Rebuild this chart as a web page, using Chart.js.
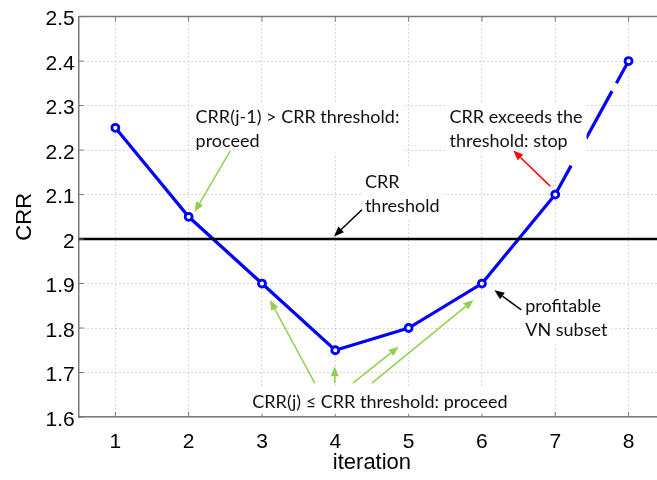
<!DOCTYPE html>
<html><head><meta charset="utf-8">
<script src="https://cdn.jsdelivr.net/npm/chart.js@4/dist/chart.umd.min.js"></script>
<style>html,body{margin:0;padding:0;background:#fff;overflow:hidden;width:657px;height:480px}canvas{display:block}</style>
</head><body><canvas id="c" width="672" height="480"></canvas>
<script>
// ---- data ----
const iterations = [1, 2, 3, 4, 5, 6, 7, 8];
const crrValues = [2.25, 2.05, 1.9, 1.75, 1.8, 1.9, 2.1, 2.4];
const xTickValues = [1, 2, 3, 4, 5, 6, 7, 8];
const xTickLabels = ['1', '2', '3', '4', '5', '6', '7', '8'];
const yTickValues = [1.6, 1.7, 1.8, 1.9, 2.0, 2.1, 2.2, 2.3, 2.4, 2.5];
const yTickLabels = ['1.6', '1.7', '1.8', '1.9', '2', '2.1', '2.2', '2.3', '2.4', '2.5'];
const crrThreshold = 2.0;
const xRange = [0.5, 8.5];
const yRange = [1.6, 2.5];
const dashedFromIndex = 6; // segment from iteration 7 to 8 is dashed
const xTitle = 'iteration';
const yTitle = 'CRR';

// annotation texts (anchor in data units: left x, first line centre y)
const noteLines = [
  ['CRR(j-1) > CRR threshold:', 'proceed'],
  ['CRR', 'threshold'],
  ['CRR exceeds the', 'threshold: stop'],
  ['profitable', 'VN subset'],
  ['CRR(j) \u2264 CRR threshold: proceed']
];
const noteX = [2.094, 4.404, 5.558, 6.591, 2.868];
const noteY = [2.273, 2.128, 2.273, 1.850, 1.634];
// arrows (data units)
const arrowFromX = [2.569, 4.363, 6.931, 6.537, 3.720, 3.992, 4.240, 4.499];
const arrowFromY = [2.199, 2.066, 2.119, 1.841, 1.676, 1.676, 1.676, 1.676];
const arrowToX   = [2.080, 3.982, 6.428, 6.170, 3.109, 3.992, 4.865, 5.885];
const arrowToY   = [2.061, 2.006, 2.199, 1.885, 1.863, 1.714, 1.758, 1.863];
const arrowKind  = ['go', 'ref', 'stop', 'ref', 'go', 'go', 'go', 'go'];

// ---- styles ----
const arrowColors = { go: '#8fd14f', ref: '#000000', stop: '#ff0000' };
const axisColor = '#7a7a7a';
const gridColor = '#b0b0b0';
const noteFont = '18px Lato, "Noto Sans", sans-serif';
const noteLineGap = 24;

const overlay = {
  id: 'overlay',
  afterDatasetsDraw(chart) {
    const { ctx, chartArea: ca, scales: { x, y } } = chart;
    ctx.save();
    // top box border
    ctx.strokeStyle = axisColor; ctx.lineWidth = 1.5;
    ctx.beginPath(); ctx.moveTo(ca.left, ca.top); ctx.lineTo(ca.right, ca.top); ctx.stroke();
    // inward tick marks
    ctx.lineWidth = 1;
    xTickValues.forEach(v => {
      const px = x.getPixelForValue(v);
      ctx.beginPath();
      ctx.moveTo(px, ca.bottom); ctx.lineTo(px, ca.bottom - 5);
      ctx.moveTo(px, ca.top); ctx.lineTo(px, ca.top + 5);
      ctx.stroke();
    });
    yTickValues.forEach(v => {
      const py = y.getPixelForValue(v);
      ctx.beginPath(); ctx.moveTo(ca.left, py); ctx.lineTo(ca.left + 5, py); ctx.stroke();
    });
    // annotation text with white boxes
    ctx.font = noteFont;
    ctx.textBaseline = 'middle';
    ctx.textAlign = 'left';
    noteLines.forEach((lines, i) => {
      const px = x.getPixelForValue(noteX[i]);
      const py = y.getPixelForValue(noteY[i]);
      const w = Math.max(...lines.map(s => ctx.measureText(s).width));
      ctx.fillStyle = '#ffffff';
      ctx.fillRect(px - 3, py - 14, w + 7, (lines.length - 1) * noteLineGap + 26);
      ctx.fillStyle = '#111111';
      lines.forEach((s, k) => ctx.fillText(s, px, py + k * noteLineGap));
    });
    // arrows
    arrowFromX.forEach((_, i) => {
      const x1 = x.getPixelForValue(arrowFromX[i]), y1 = y.getPixelForValue(arrowFromY[i]);
      const x2 = x.getPixelForValue(arrowToX[i]), y2 = y.getPixelForValue(arrowToY[i]);
      const col = arrowColors[arrowKind[i]];
      const ang = Math.atan2(y2 - y1, x2 - x1);
      const hl = 10, hw = 4;
      const bx = x2 - hl * Math.cos(ang), by = y2 - hl * Math.sin(ang);
      ctx.strokeStyle = col; ctx.fillStyle = col; ctx.lineWidth = 1.5;
      ctx.beginPath(); ctx.moveTo(x1, y1); ctx.lineTo(bx, by); ctx.stroke();
      ctx.beginPath();
      ctx.moveTo(x2, y2);
      ctx.lineTo(bx + hw * Math.sin(ang), by - hw * Math.cos(ang));
      ctx.lineTo(bx - hw * Math.sin(ang), by + hw * Math.cos(ang));
      ctx.closePath(); ctx.fill();
    });
    ctx.restore();
  }
};

new Chart(document.getElementById('c'), {
  type: 'line',
  data: {
    datasets: [
      {
        label: 'CRR',
        data: iterations.map((it, i) => ({ x: it, y: crrValues[i] })),
        borderColor: '#0000ff',
        borderWidth: 3.2,
        pointRadius: 3.5,
        pointBorderWidth: 2.8,
        pointBackgroundColor: '#ffffff',
        pointBorderColor: '#0000ff',
        segment: {
          borderDash: ctx => ctx.p0DataIndex >= dashedFromIndex ? [33, 31, 54, 9] : undefined
        },
        order: 1
      },
      {
        label: 'threshold',
        data: [{ x: xRange[0], y: crrThreshold }, { x: xRange[1], y: crrThreshold }],
        borderColor: '#000000',
        borderWidth: 2.5,
        pointRadius: 0,
        order: 0
      }
    ]
  },
  options: {
    responsive: false,
    animation: false,
    events: [],
    layout: { padding: { left: 0, top: 13, right: 672 - 667.5, bottom: 0 } },
    plugins: { legend: { display: false }, tooltip: { enabled: false } },
    scales: {
      x: {
        type: 'linear', min: xRange[0], max: xRange[1],
        afterBuildTicks: s => { s.ticks = xTickValues.map(v => ({ value: v })); },
        afterFit: s => { s.height = 63; },
        ticks: {
          callback: (v, i) => xTickLabels[i],
          font: { family: '"Liberation Sans", Arial, sans-serif', size: 21 },
          color: '#000', padding: 13, maxRotation: 0
        },
        grid: { color: gridColor, lineWidth: 1, drawTicks: false },
        border: { display: true, color: axisColor, width: 1.5, dash: [1, 3] },
        title: {
          display: true, text: xTitle, color: '#000',
          font: { family: '"Liberation Sans", Arial, sans-serif', size: 22 },
          padding: { top: 0, bottom: 4 }
        }
      },
      y: {
        type: 'linear', min: yRange[0], max: yRange[1],
        afterBuildTicks: s => { s.ticks = yTickValues.map(v => ({ value: v })); },
        afterFit: s => { s.width = 78.7; },
        ticks: {
          callback: (v, i) => yTickLabels[i],
          font: { family: '"Liberation Sans", Arial, sans-serif', size: 21 },
          color: '#000', padding: 4, labelOffset: 3
        },
        grid: { color: gridColor, lineWidth: 1, drawTicks: false },
        border: { display: true, color: axisColor, width: 1.5, dash: [1, 3] },
        title: {
          display: true, text: yTitle, color: '#000',
          font: { family: '"Liberation Sans", Arial, sans-serif', size: 22 },
          padding: { top: 12, bottom: 0 }
        }
      }
    }
  },
  plugins: [overlay]
});
</script>
</body></html>
